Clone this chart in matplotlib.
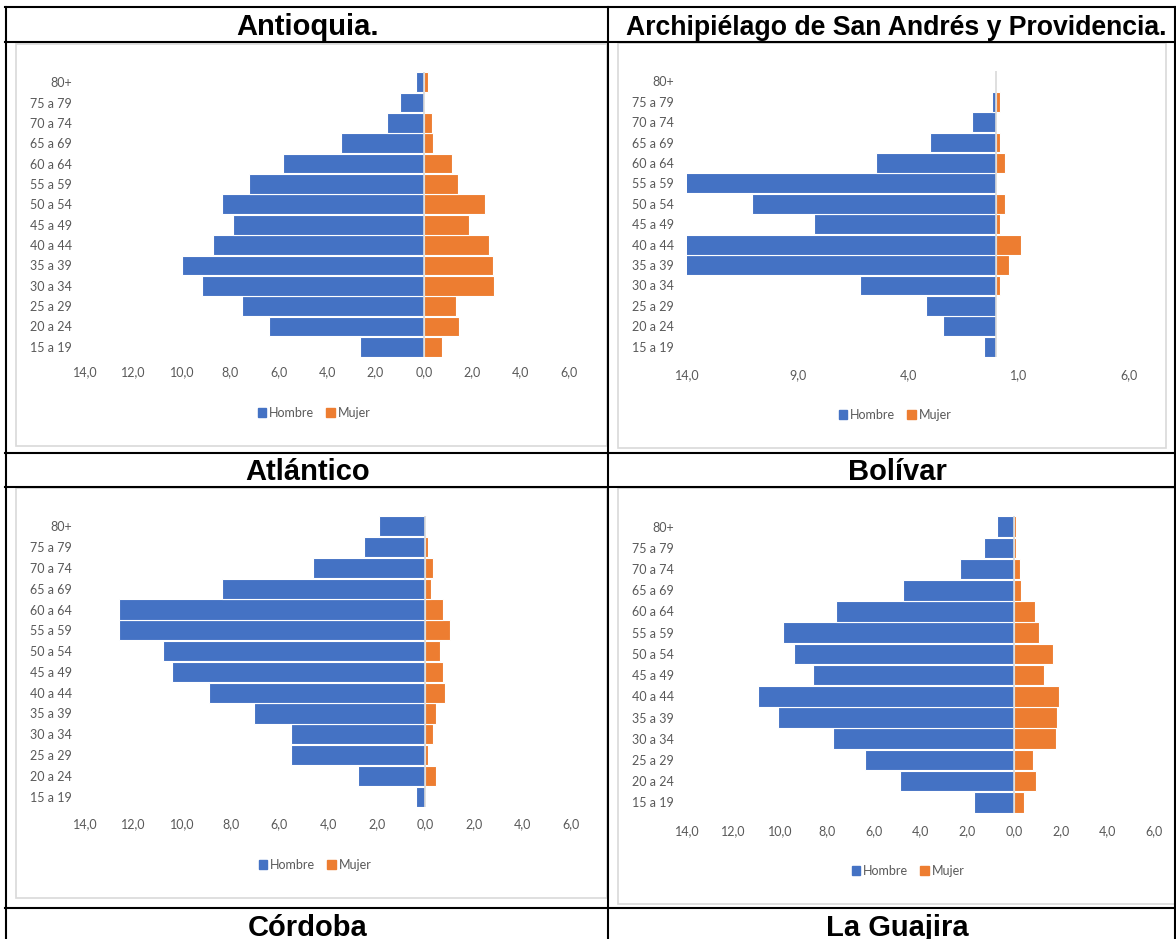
import matplotlib
matplotlib.use("Agg")
import matplotlib.pyplot as plt
from matplotlib.patches import Patch, Rectangle
from matplotlib.lines import Line2D
from matplotlib.legend import Legend

W, H = 1176, 939

edades = ["15 a 19", "20 a 24", "25 a 29", "30 a 34", "35 a 39", "40 a 44", "45 a 49",
          "50 a 54", "55 a 59", "60 a 64", "65 a 69", "70 a 74", "75 a 79", "80+"]

# porcentajes (de 15 a 19 hasta 80+)
antioquia_h = [2.62, 6.39, 7.53, 9.18, 9.98, 8.70, 7.87, 8.33, 7.24, 5.83, 3.42, 1.52, 0.98, 0.34]
antioquia_m = [0.74, 1.46, 1.35, 2.91, 2.84, 2.71, 1.88, 2.54, 1.40, 1.16, 0.39, 0.34, 0.05, 0.16]

sanandres_h = [0.54, 2.42, 3.17, 6.18, 14.5, 14.5, 8.26, 11.05, 14.5, 5.43, 3.01, 1.12, 0.18, 0.0]
sanandres_m = [0.0, 0.0, 0.0, 0.18, 0.56, 1.13, 0.18, 0.39, 0.0, 0.39, 0.18, 0.0, 0.18, 0.0]

atlantico_h = [0.37, 2.78, 5.54, 5.54, 7.06, 8.88, 10.40, 10.80, 12.62, 12.62, 8.38, 4.61, 2.50, 1.90]
atlantico_m = [0.0, 0.43, 0.10, 0.32, 0.43, 0.83, 0.72, 0.61, 1.04, 0.72, 0.22, 0.32, 0.10, 0.02]

bolivar_h = [1.71, 4.87, 6.38, 7.76, 10.09, 10.96, 8.62, 9.41, 9.91, 7.62, 4.73, 2.32, 1.29, 0.72]
bolivar_m = [0.42, 0.93, 0.81, 1.79, 1.84, 1.94, 1.29, 1.68, 1.07, 0.90, 0.31, 0.28, 0.08, 0.08]

ticks_2 = [-14, -12, -10, -8, -6, -4, -2, 0, 2, 4, 6]
ticks_5 = [-14, -9, -4, 1, 6]

AZUL = "#4472C4"
NARANJA = "#ED7D31"
GRIS = "#595959"
FUENTE = "Lato"

fig = plt.figure(figsize=(W / 100, H / 100), dpi=100)

# fondo: tabla, marcos y titulos en pixeles
bg = fig.add_axes([0, 0, 1, 1])
bg.set_xlim(0, W)
bg.set_ylim(H, 0)
bg.axis("off")

paneles = [(16, 44, 607, 446), (618, 43, 1166, 448), (16, 488, 607, 898), (618, 488, 1180, 904)]
for x0, y0, x1, y1 in paneles:
    bg.add_patch(Rectangle((x0, y0), x1 - x0, y1 - y0, fill=False, edgecolor="#D9D9D9", lw=1.2))

lw_tabla = 1.5
for y in [7, 42, 453, 487, 908]:
    bg.add_line(Line2D([5, 1176], [y, y], color="black", lw=lw_tabla))
for x in [6, 607.5, 1175]:
    bg.add_line(Line2D([x, x], [7, H], color="black", lw=lw_tabla))

titulos = [("Antioquia.", 308, 35, 21), ("Archipiélago de San Andrés y Providencia.", 896, 35, 19.2),
           ("Atlántico", 308, 480, 21), ("Bolívar", 897, 480, 21),
           ("Córdoba", 308, 936, 21), ("La Guajira", 897, 936, 21)]
for txt, x, y, fs in titulos:
    bg.text(x, y, txt, ha="center", va="baseline", fontsize=fs, fontweight="bold",
            family="Liberation Sans", color="black")


def piramide(x_l, x_r, y_top, y_bot, hombre, mujer, ticks, leg_x, leg_y, pad_x):
    ax = fig.add_axes([x_l / W, 1 - y_bot / H, (x_r - x_l) / W, (y_bot - y_top) / H])
    ax.set_facecolor("none")
    pos = range(len(edades))
    ax.barh(pos, [-v for v in hombre], height=0.97, color=AZUL, edgecolor="white", lw=0.8)
    ax.barh(pos, mujer, height=0.97, color=NARANJA, edgecolor="white", lw=0.8)
    ax.axvline(0, color="#D9D9D9", lw=1.2, zorder=3)
    ax.set_xlim(-14, 6)
    ax.set_ylim(-0.5, len(edades) - 0.5)
    ax.set_yticks(list(pos))
    ax.set_yticklabels(edades)
    ax.set_xticks(ticks)
    ax.set_xticklabels([f"{abs(t):.1f}".replace(".", ",") for t in ticks])
    for s in ax.spines.values():
        s.set_visible(False)
    ax.tick_params(axis="y", length=0, pad=9.4, labelsize=9, labelcolor=GRIS)
    ax.tick_params(axis="x", length=0, pad=pad_x, labelsize=9, labelcolor=GRIS)
    for lab in ax.get_xticklabels() + ax.get_yticklabels():
        lab.set_family(FUENTE)
    handles = [Patch(color=AZUL), Patch(color=NARANJA)]
    leg = Legend(bg, handles, ["Hombre", "Mujer"], loc="center", bbox_to_anchor=(leg_x, leg_y),
                 bbox_transform=bg.transData, ncol=2, frameon=False,
                 prop={"family": FUENTE, "size": 9}, labelcolor=GRIS,
                 handlelength=0.7, handleheight=0.7, handletextpad=0.2, columnspacing=1.0)
    bg.add_artist(leg)
    return ax


piramide(85, 569, 72, 357, antioquia_h, antioquia_m, ticks_2, 314, 413, 6.5)
piramide(687, 1129, 71, 357, sanandres_h, sanandres_m, ticks_5, 895, 415, 9)
piramide(85, 571, 516, 807, atlantico_h, atlantico_m, ticks_2, 315, 865, 8)
piramide(687, 1154, 516, 813, bolivar_h, bolivar_m, ticks_2, 908, 871, 9)

fig.savefig("out.png", dpi=100)
